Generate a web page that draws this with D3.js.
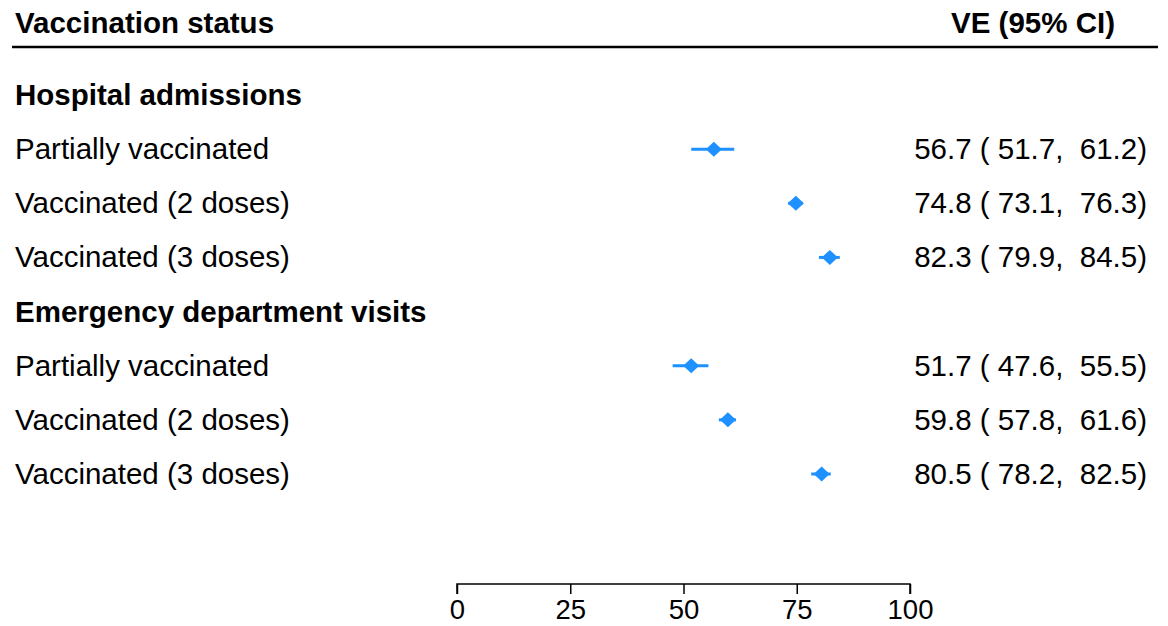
<!DOCTYPE html>
<html><head><meta charset="utf-8">
<script src="https://cdn.jsdelivr.net/npm/d3@7"></script>
<style>body{margin:0;background:#fff}text{font-family:"Liberation Sans",Arial,sans-serif}</style>
</head><body><svg id="c" width="1168" height="626"></svg>
<script>
const groups = ["Hospital admissions", "Emergency department visits"];
const labels = ["Partially vaccinated", "Vaccinated (2 doses)", "Vaccinated (3 doses)",
                "Partially vaccinated", "Vaccinated (2 doses)", "Vaccinated (3 doses)"];
const est   = [56.7, 74.8, 82.3, 51.7, 59.8, 80.5];
const lower = [51.7, 73.1, 79.9, 47.6, 57.8, 78.2];
const upper = [61.2, 76.3, 84.5, 55.5, 61.6, 82.5];
const ticks = [0, 25, 50, 75, 100];

const svg = d3.select("#c");
const x = d3.scaleLinear().domain([0, 100]).range([457, 910]);
const rowY = d3.scaleLinear().domain([0, 7]).range([95, 474]);
const col = "#1E90FF";
const FS = 29.5;

svg.append("text").attr("x", 15).attr("y", 33).attr("font-size", FS).attr("font-weight", "bold").text("Vaccination status");
svg.append("text").attr("x", 1115).attr("y", 33).attr("font-size", FS).attr("font-weight", "bold").attr("text-anchor", "end").text("VE (95% CI)");
svg.append("line").attr("x1", 12).attr("x2", 1158).attr("y1", 47).attr("y2", 47).attr("stroke", "#000").attr("stroke-width", 2.5);

const fmt = d3.format(".1f");
const rows = [];
groups.forEach((g, gi) => {
  rows.push({type: "group", label: g, r: gi * 4});
  for (let k = 0; k < 3; k++) {
    const i = gi * 3 + k;
    rows.push({type: "item", label: labels[i], e: est[i], lo: lower[i], hi: upper[i], r: gi * 4 + 1 + k});
  }
});

rows.forEach(d => {
  const y = rowY(d.r);
  svg.append("text").attr("x", 15).attr("y", y + 10).attr("font-size", FS)
    .attr("font-weight", d.type === "group" ? "bold" : "normal").text(d.label);
  if (d.type === "item") {
    svg.append("line").attr("x1", x(d.lo)).attr("x2", x(d.hi)).attr("y1", y).attr("y2", y)
      .attr("stroke", col).attr("stroke-width", 3);
    const cx = x(d.e);
    svg.append("path").attr("d", `M${cx - 8},${y} L${cx},${y - 7.5} L${cx + 8},${y} L${cx},${y + 7.5} Z`).attr("fill", col);
    svg.append("text").attr("x", 1147).attr("y", y + 10).attr("font-size", FS).attr("text-anchor", "end")
      .style("white-space", "pre").attr("xml:space", "preserve")
      .text(`${fmt(d.e)} ( ${fmt(d.lo)},  ${fmt(d.hi)})`);
  }
});

const ax = svg.append("g").attr("transform", "translate(0,584)")
  .call(d3.axisBottom(x).tickValues(ticks).tickSize(10).tickPadding(5).tickFormat(d3.format("d")));
ax.select(".domain").attr("stroke", "#000").attr("stroke-width", 1.5).attr("d", `M${x(0)},10V0H${x(100)}V10`);
ax.selectAll(".tick line").attr("stroke", "#000").attr("stroke-width", 1.5);
ax.selectAll(".tick text").attr("font-size", 27.5).attr("fill", "#000").attr("font-family", '"Liberation Sans",Arial,sans-serif');
</script></body></html>
